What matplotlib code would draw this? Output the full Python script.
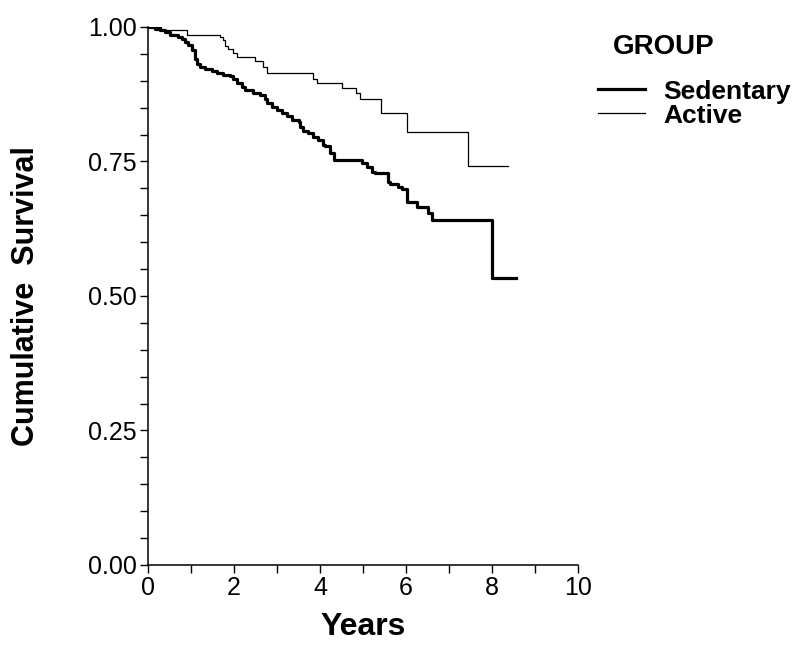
import numpy as np
import matplotlib.pyplot as plt

plt.rcParams['font.family'] = ['Liberation Sans', 'DejaVu Sans']

# step times (years) and survival after each drop
sed_t = [0, 0.16, 0.28, 0.40, 0.51, 0.70, 0.78, 0.86, 0.93, 1.02, 1.09, 1.13, 1.21,
         1.33, 1.48, 1.60, 1.74, 1.91, 1.98, 2.06, 2.18, 2.26, 2.44, 2.61, 2.72, 2.76,
         2.88, 2.99, 3.11, 3.23, 3.34, 3.50, 3.54, 3.61, 3.72, 3.84, 3.95, 4.07, 4.12,
         4.23, 4.33, 4.97, 5.09, 5.20, 5.28, 5.59, 5.63, 5.82, 5.90, 6.02, 6.25, 6.52,
         6.60, 8.00, 8.56]
sed_s = [1.000, 0.997, 0.994, 0.991, 0.986, 0.981, 0.978, 0.972, 0.966, 0.957, 0.941,
         0.932, 0.926, 0.921, 0.918, 0.915, 0.911, 0.908, 0.904, 0.895, 0.888, 0.883,
         0.877, 0.874, 0.866, 0.858, 0.852, 0.846, 0.841, 0.835, 0.828, 0.824, 0.815,
         0.807, 0.802, 0.796, 0.790, 0.781, 0.778, 0.765, 0.752, 0.747, 0.740, 0.731,
         0.728, 0.712, 0.708, 0.703, 0.698, 0.675, 0.666, 0.654, 0.641, 0.534, 0.534]

act_t = [0, 0.30, 0.90, 1.67, 1.75, 1.79, 1.87, 1.98, 2.06, 2.49, 2.67, 2.76, 3.84,
         3.92, 4.50, 4.84, 4.93, 5.42, 6.02, 7.45, 8.38]
act_s = [1.000, 0.995, 0.986, 0.981, 0.975, 0.965, 0.959, 0.952, 0.944, 0.936, 0.926,
         0.914, 0.903, 0.896, 0.886, 0.877, 0.866, 0.840, 0.804, 0.742, 0.742]

fig = plt.figure(figsize=(8, 6.5), dpi=100)
ax = fig.add_axes([0.185, 0.1308, 0.5375, 0.8277])

ax.step(sed_t, sed_s, where='post', color='black', lw=2.3, label='Sedentary')
ax.step(act_t, act_s, where='post', color='black', lw=0.9, label='Active')

ax.set_xlim(0, 10)
ax.set_ylim(0, 1)
ax.set_xticks([0, 2, 4, 6, 8, 10])
ax.set_xticks(np.arange(0, 11, 1), minor=True)
ax.set_yticks([0, 0.25, 0.5, 0.75, 1.0])
ax.set_yticklabels(['0.00', '0.25', '0.50', '0.75', '1.00'])
ax.set_yticks(np.arange(0, 1.001, 0.05), minor=True)
ax.tick_params(which='both', direction='out', length=6, width=1.0, labelsize=18, pad=2)
for s in ['top', 'right']:
    ax.spines[s].set_visible(False)
for s in ['left', 'bottom']:
    ax.spines[s].set_linewidth(1.1)

ax.set_xlabel('Years', fontsize=23, fontweight='bold')
ax.xaxis.set_label_coords(0.5, -0.088)
ax.set_ylabel('Cumulative  Survival', fontsize=22, fontweight='bold')
ax.yaxis.set_label_coords(-0.25, 0.5)

fig.text(0.766, 0.928, 'GROUP', fontsize=20, fontweight='bold', va='center')
leg = ax.legend(loc='upper left', bbox_to_anchor=(1.0465, 0.902), frameon=False,
                fontsize=19, handlelength=1.8, handletextpad=0.68, labelspacing=0.0,
                borderpad=0, borderaxespad=0)
for t in leg.get_texts():
    t.set_fontweight('bold')

fig.savefig('out.png', dpi=100)
